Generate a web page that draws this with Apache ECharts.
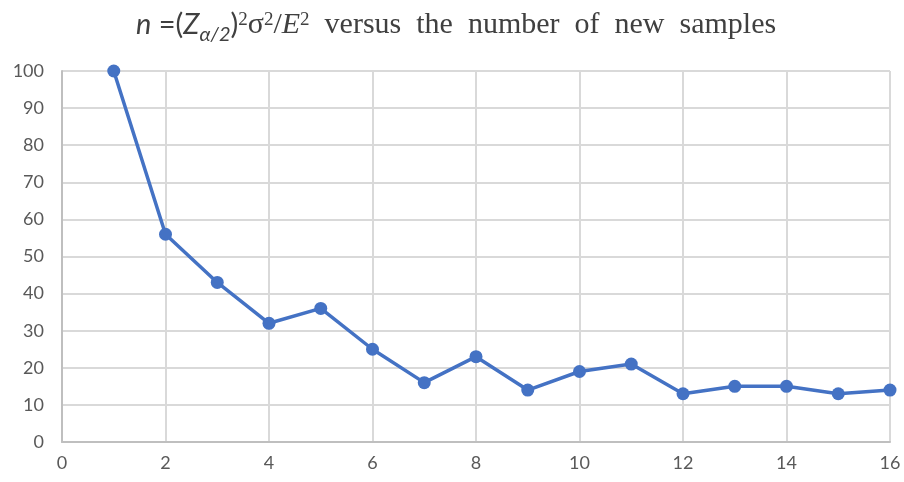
<!DOCTYPE html>
<html>
<head>
<meta charset="utf-8">
<script src="https://cdn.jsdelivr.net/npm/echarts@6/dist/echarts.min.js"></script>
<style>
  html, body { margin: 0; padding: 0; background: #fff; }
  #chart { width: 904px; height: 482px; }
</style>
</head>
<body>
<div id="chart"></div>
<script>
// Number of new samples and the resulting sample size n
const sampleCounts = [1, 2, 3, 4, 5, 6, 7, 8, 9, 10, 11, 12, 13, 14, 15, 16];
const sampleSizes = [100, 56, 43, 32, 36, 25, 16, 23, 14, 19, 21, 13, 15, 15, 13, 14];

const xAxisRange = { min: 0, max: 16, step: 2 };
const yAxisRange = { min: 0, max: 100, step: 10 };

const points = sampleCounts.map((c, i) => [c, sampleSizes[i]]);

const chart = echarts.init(document.getElementById('chart'));

const sansFont = 'Lato, "Noto Sans", sans-serif';
const serifFont = '"Liberation Serif", "DejaVu Serif", serif';
const titleColor = '#404040';

const base = { color: titleColor, lineHeight: 40, fontWeight: 'normal' };

chart.setOption({
  animation: false,
  backgroundColor: '#ffffff',
  title: {
    left: 131,
    top: 0,
    text: '{si|n}{s| =(}{si|Z}{sub|α/2}{s|)}{sup|2}{r|σ}{sup|2}{r|/}{ri|E}{sup|2}{r|  versus  the  number  of  new  samples}',
    textStyle: {
      fontWeight: 'normal',
      rich: {
        s: Object.assign({ fontFamily: sansFont, fontSize: 29 }, base),
        si: Object.assign({ fontFamily: sansFont, fontSize: 29, fontStyle: 'italic' }, base),
        sub: Object.assign({ fontFamily: sansFont, fontSize: 20, fontStyle: 'italic', verticalAlign: 'bottom' }, base),
        sup: Object.assign({ fontFamily: serifFont, fontSize: 19, verticalAlign: 'top', padding: [6, 0, 0, 0] }, base),
        r: Object.assign({ fontFamily: serifFont, fontSize: 30 }, base),
        ri: Object.assign({ fontFamily: serifFont, fontSize: 30, fontStyle: 'italic' }, base)
      }
    }
  },
  grid: { left: 62, right: 14, top: 71, bottom: 40, containLabel: false },
  xAxis: {
    type: 'value',
    min: xAxisRange.min,
    max: xAxisRange.max,
    interval: xAxisRange.step,
    axisLine: { show: true, lineStyle: { color: '#bfbfbf', width: 2 } },
    axisTick: { show: false },
    axisLabel: { color: '#595959', fontFamily: sansFont, fontSize: 18, margin: 12 },
    splitLine: { show: true, lineStyle: { color: '#d9d9d9', width: 2 } }
  },
  yAxis: {
    type: 'value',
    min: yAxisRange.min,
    max: yAxisRange.max,
    interval: yAxisRange.step,
    axisLine: { show: true, lineStyle: { color: '#bfbfbf', width: 2 } },
    axisTick: { show: false },
    axisLabel: { color: '#595959', fontFamily: sansFont, fontSize: 18, margin: 18 },
    splitLine: { show: true, lineStyle: { color: '#d9d9d9', width: 2 } }
  },
  series: [{
    type: 'line',
    data: points,
    lineStyle: { color: '#4472c4', width: 3.5 },
    itemStyle: { color: '#4472c4' },
    symbol: 'circle',
    symbolSize: 13,
    clip: false
  }]
});
</script>
</body>
</html>
